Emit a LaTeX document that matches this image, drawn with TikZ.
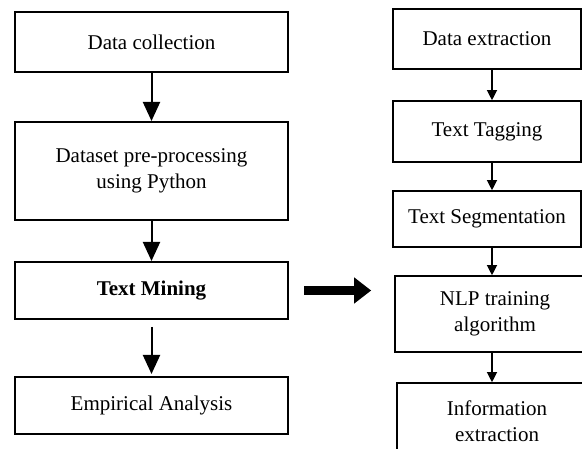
\documentclass[tikz,border=0pt]{standalone}
\usepackage{fontspec}
\setmainfont{Liberation Serif}
\usetikzlibrary{arrows.meta}
\begin{document}
\begin{tikzpicture}[x=1pt,y=-1pt,
  every node/.style={font=\fontsize{21}{26}\selectfont, align=center, inner sep=0pt},
  mainbox/.style={draw, line width=2pt, minimum width=273pt},
  subbox/.style={draw, line width=1.6pt},
  mainflow/.style={line width=2pt, -{Triangle[width=17pt,length=19pt]}},
  subflow/.style={line width=1.2pt, -{Triangle[width=10pt,length=10pt]}},
  bigflow/.style={line width=9pt, -{Triangle[width=25pt,length=17pt]}}]
\useasboundingbox (0,0) rectangle (582,449);
\clip (0,0) rectangle (582,449);

% main workflow (left column)
\node[mainbox, minimum height=60pt] (dc) at (151.5,42) {Data collection};
\node[mainbox, minimum height=98pt] (dp) at (151.5,171) {Dataset pre-processing\\using Python};
\node[mainbox, minimum height=57pt] (tm) at (151.5,290.5) {\bfseries Text Mining};
\node[mainbox, minimum height=57pt] (ea) at (151.5,405.5) {Empirical Analysis};

\draw[mainflow] (dc.south) -- (dp.north);
\draw[mainflow] (dp.south) -- (tm.north);
\draw[mainflow, shorten <=7pt, shorten >=2pt] (tm.south) -- (ea.north);

% text mining steps (right column)
\node[subbox, minimum width=188pt, minimum height=60pt] (de) at (487,39) {Data extraction};
\node[subbox, minimum width=188pt, minimum height=61pt] (tt) at (487,131.5) {Text Tagging};
\node[subbox, minimum width=188pt, minimum height=56pt] (ts) at (487,219) {Text Segmentation};
\node[subbox, minimum width=200pt, minimum height=76pt] (nlp) at (495,314) {NLP training\\algorithm};
\node[subbox, minimum width=200pt, minimum height=77pt] (ie) at (497,421.5) {Information\\extraction};

\coordinate (rc) at (492,0);
\draw[subflow] (de.south -| rc) -- (tt.north -| rc);
\draw[subflow] (tt.south -| rc) -- (ts.north -| rc);
\draw[subflow] (ts.south -| rc) -- (nlp.north -| rc);
\draw[subflow] (nlp.south -| rc) -- (ie.north -| rc);

% link from text mining to its steps
\draw[bigflow, shorten <=15pt, shorten >=23pt] (tm.east) -- (tm.east -| nlp.west);
\end{tikzpicture}
\end{document}
